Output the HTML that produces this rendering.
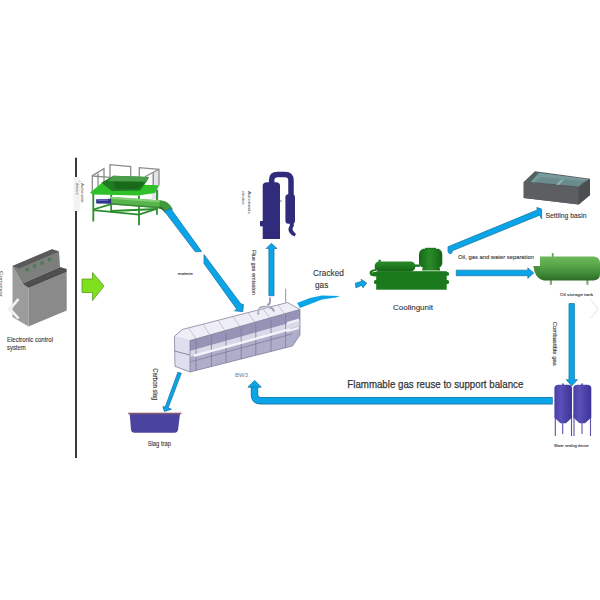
<!DOCTYPE html>
<html><head><meta charset="utf-8">
<style>
html,body{margin:0;padding:0;background:#fff;width:600px;height:600px;overflow:hidden}
svg{display:block}
text{font-family:"Liberation Sans",sans-serif;stroke-linejoin:round}
.b{stroke:#333;stroke-width:0.25px}
.s{stroke:#333;stroke-width:0.1px}
</style></head><body>
<svg width="600" height="600" viewBox="0 0 600 600">
<defs>
<linearGradient id="tankG" x1="0" y1="0" x2="0" y2="1">
<stop offset="0" stop-color="#6cb85a"/><stop offset="0.35" stop-color="#5aa84a"/><stop offset="0.75" stop-color="#3e8836"/><stop offset="1" stop-color="#2a6a26"/>
</linearGradient>
</defs>
<rect width="600" height="600" fill="#fff"/>

<!-- vertical divider -->
<rect x="75" y="157.7" width="2" height="19.4" fill="#3a3a3a"/>
<rect x="75" y="210.9" width="2" height="247.1" fill="#3a3a3a"/>
<rect x="73.5" y="177" width="6.5" height="34" fill="#f3f3f3"/>

<!-- cabinet -->
<polygon points="12.5,266 22.5,283.5 28.5,288 28.5,326.5 12.5,317" fill="#9c9c9c"/>
<polygon points="28.5,288 66.7,272 66.7,310.5 28.5,326.5" fill="#8a8a8a"/>
<polygon points="12.5,266 52,249.3 59,251.5 60,267 22.5,283.5" fill="#7c7f7c"/>
<polygon points="12.5,266 52,249.3 59,251.5 19,268.5" fill="#5a5a5a"/>
<polygon points="22.5,283.5 60,267 66.7,269 66.7,272 28.5,288" fill="#4e4e4e"/>
<g fill="#6a6a6a"><circle cx="30" cy="283" r="0.6"/><circle cx="36" cy="280.5" r="0.6"/><circle cx="42" cy="278" r="0.6"/><circle cx="48" cy="275.5" r="0.6"/><circle cx="54" cy="273" r="0.6"/><circle cx="60" cy="270.5" r="0.6"/></g>
<circle cx="27.3" cy="269.5" r="1.9" fill="#4f7a55"/>
<circle cx="34.5" cy="266" r="1.9" fill="#4f7a55"/>
<circle cx="42" cy="263" r="1.9" fill="#4f7a55"/>
<circle cx="49.5" cy="259.3" r="1.9" fill="#4f7a55"/>

<!-- green arrow -->
<polygon points="82,279 92.5,279 92.5,272.5 104,286 92.5,300.5 92.5,292.5 82,292.5" fill="#7ee01e" stroke="#5a9a1a" stroke-width="0.8"/>

<!-- feeder machine -->
<g>
<polygon points="151.7,172.5 159,170 159,199.5 151.7,199.5" fill="#e4e4ea"/>
<g fill="none" stroke="#8c8c8c" stroke-width="1.3">
<polyline points="92.3,193 92.3,175.7 104,168.7 104,182"/>
<line x1="98" y1="173.3" x2="98" y2="186.7"/>
<line x1="92.3" y1="176" x2="110" y2="177.3"/>
<polyline points="110,180 110,164.7 130.7,166.7 130.7,177"/>
<polyline points="139.3,177 139.3,167.7 159,169.3 159,185.3"/>
<line x1="159" y1="169.3" x2="145" y2="176.7"/>
<line x1="153.3" y1="173" x2="153.3" y2="185"/>
</g>
<polygon points="90,192.7 101.3,183.3 159,185.3 155,193 138.3,195.5 93,194.5" fill="#2fc02a"/>
<polygon points="101.3,182.7 113.3,175.7 149,177 147,181 140,190.5 112,191" fill="#1f7a22"/>
<polygon points="113.3,175.7 149,177 146,181.5 108,181" fill="#4a9e4a"/>
<polygon points="113,182 144,182.5 138,189 116,189" fill="#186a1a"/>
<g stroke="#2a8e2a" stroke-width="1.8" fill="none">
<line x1="93.3" y1="194" x2="93.3" y2="221.5"/>
<line x1="111.2" y1="195" x2="111.2" y2="212.5"/>
<line x1="139" y1="195.5" x2="139" y2="225.2"/>
<line x1="157" y1="190" x2="157" y2="214.7"/>
<polyline points="93.3,210.2 139,214.7 157,208.7"/>
<line x1="93.3" y1="209.5" x2="111.2" y2="204.2"/>
<line x1="111.2" y1="211" x2="157" y2="209"/>
</g>
<polygon points="110.5,196.7 161.5,200.5 161.5,208.5 110.5,204.5" fill="#5ab44e"/><polygon points="110.5,203 161.5,207 161.5,208.5 110.5,204.5" fill="#3a8a36"/>
<polygon points="110.5,196.7 161.5,200.5 161.5,202.5 110.5,198.7" fill="#86d07a"/>
<polygon points="96.2,199.3 111.2,198.7 111.2,203.8 96.2,203.5" fill="#30338a"/>
<polygon points="98,199.6 108,199.2 108,200.8 98,201" fill="#6a70c0"/>
<path d="M159.5,200.6 Q168,199.8 173,209.3 L165.3,213.3 Q163,209 159.5,208.5 Z" fill="#3e9a3a"/><path d="M159.5,206.5 Q163.5,207 165.8,212.8 L165.3,213.3 Q163,209 159.5,208.5 Z" fill="#2a6a2a"/>
</g>

<!-- feeder to furnace pipe -->
<polygon points="164.3,211 170.8,208.7 201.6,251.5 195.3,251.8" fill="#0aa4e8" stroke="#1b78a4" stroke-width="0.8"/>

<polygon points="204,254.6 240.8,303.8 243.4,304.6 242.8,311.6 234.6,310.8 236.6,309 204,263.5" fill="#0aa4e8" stroke="#1b78a4" stroke-width="0.8"/>


<!-- chimney -->
<path d="M271.7,184 L271.7,180 Q271.7,174.5 277.5,174.5 L285,174.5 Q291,174.5 291,180.5 L291,196" fill="none" stroke="#302b7a" stroke-width="5.5"/>
<path d="M262.7,239 L262.7,186 Q262.7,182.3 267,182.3 L276,182.3 Q280,182.3 280,186 L280,239 Z" fill="#302b7a"/>
<rect x="285.4" y="194.3" width="9.6" height="29.4" rx="3" fill="#302b7a"/>
<path d="M289.5,226 Q287.5,229 289,232 Q291,235 294.5,236.5 L296,234 Q293.5,232 292.5,229.5 Q292.5,227.5 293.8,226 Z" fill="#302b7a"/>
<rect x="289.8" y="223" width="4" height="3" fill="#302b7a"/>
<rect x="260" y="221" width="3" height="5.3" fill="#302b7a"/>
<rect x="280" y="200.5" width="1.7" height="1" fill="#6a6a9a"/>

<!-- flue gas arrow -->
<polygon points="268.9,295.7 268.9,248.5 266.2,248.5 271.4,243.3 277,248.5 274,248.5 274,295.7" fill="#0aa4e8" stroke="#1b78a4" stroke-width="0.8"/>

<!-- furnace -->
<g>
<polygon points="174.4,336.3 182.5,329.4 287.5,302.5 300,309.4 300,335 292.5,346 190,372 175,366.3" fill="#c4c4d8"/>
<polygon points="174.4,336.3 182.5,329.4 287.5,302.5 300,309.4 190,340.6" fill="#eeeef6"/>
<polygon points="190,340.6 300,309.4 300,320 190,351" fill="#9694b6"/>
<polygon points="190,351 300,320 300,326 190,357" fill="#d8d8e8"/>
<polygon points="190,357 300,326 300,335 292.5,346 190,372" fill="#aeaeca"/>
<polygon points="174.4,336.3 190,340.6 190,372 175,366.3" fill="#dedeee"/>
<line x1="174.5" y1="351" x2="190" y2="355" stroke="#8a8aa8" stroke-width="1"/>
<g stroke="#c8bcc8" stroke-width="0.9">
<line x1="188.7" y1="328" x2="196" y2="338.8"/>
<line x1="203.3" y1="324.5" x2="210.8" y2="336.6"/>
<line x1="218.4" y1="320.5" x2="226" y2="332.3"/>
<line x1="233" y1="316.5" x2="241.2" y2="328"/>
<line x1="248" y1="312.6" x2="256" y2="323.8"/>
<line x1="263" y1="308.7" x2="271" y2="319.6"/>
<line x1="278" y1="304.8" x2="285.5" y2="315.4"/>
</g>
<g stroke="#7c7c9c" stroke-width="0.8">
<line x1="196" y1="338.8" x2="196" y2="370.5"/>
<line x1="211.4" y1="334.5" x2="211.4" y2="366.5"/>
<line x1="226" y1="330.3" x2="226" y2="362.8"/>
<line x1="241.2" y1="326" x2="241.2" y2="359"/>
<line x1="255.8" y1="322" x2="255.8" y2="355"/>
<line x1="271" y1="317.6" x2="271" y2="351.5"/>
<line x1="285.5" y1="313.4" x2="285.5" y2="348"/>
<line x1="190" y1="362" x2="292" y2="334"/>
</g>
<polygon points="194,354.5 290,328 290,330.5 194,357" fill="#f4f4fa"/>
<polygon points="287,322 299,318.5 299,321 287,324.5" fill="#f0f0f8"/>
<polygon points="287,330 299,326.5 299,329 287,332.5" fill="#f0f0f8"/>
<g stroke="#7a7a98" stroke-width="0.7" fill="none">
<polyline points="174.4,336.3 182.5,329.4 287.5,302.5 300,309.4 300,335 292.5,346 190,372 175,366.3 174.4,336.3"/>
<line x1="190" y1="340.6" x2="300" y2="309.4"/>
<line x1="190" y1="340.6" x2="190" y2="372"/>
</g>
<path d="M258,314.5 L259,309.5 Q260,306.8 264,306.8 L270,307.5 Q273,308 274,311.5" fill="none" stroke="#a0a0b8" stroke-width="2"/>
<path d="M258.6,313 L259.5,309.5 Q260.5,307.5 264,307.5 L269,308" fill="none" stroke="#ececf4" stroke-width="0.7"/>
<path d="M270,297.5 L270,302 Q270,304.5 267,305" fill="none" stroke="#a0a0b8" stroke-width="2"/>
<line x1="285.6" y1="288.8" x2="285.6" y2="302.5" stroke="#a4a4b8" stroke-width="1.2"/>
</g>
<text x="235" y="376.5" font-size="5" fill="#80808a" textLength="13" lengthAdjust="spacingAndGlyphs">BW3</text>

<!-- cracked gas streak & small arrow -->
<polygon points="297,303 310,298 322,295.5 340,296 336,297.5 322,299.5 300,308" fill="#0aa4e8"/>
<polygon points="355.3,283.3 361.8,281.3 361,279.3 366.7,283 363,287.8 362,285.3 356,287.8" fill="#0aa4e8" stroke="#1b78a4" stroke-width="0.8"/>
<text class="s" x="313" y="276" font-size="9" fill="#333" textLength="31" lengthAdjust="spacingAndGlyphs">Cracked</text>
<text class="s" x="315" y="288" font-size="9" fill="#333" textLength="13.3" lengthAdjust="spacingAndGlyphs">gas</text>

<!-- cooling unit -->
<defs>
<linearGradient id="cuG" x1="0" y1="0" x2="1" y2="0">
<stop offset="0" stop-color="#156815"/><stop offset="0.45" stop-color="#2a8c2a"/><stop offset="1" stop-color="#146414"/>
</linearGradient>
<linearGradient id="cyG" x1="0" y1="0" x2="0" y2="1">
<stop offset="0" stop-color="#2a8a2a"/><stop offset="0.5" stop-color="#1f7a1f"/><stop offset="1" stop-color="#156415"/>
</linearGradient>
</defs>
<g>
<rect x="376.2" y="271.2" width="70.5" height="18.5" fill="#1b7a1b"/>
<rect x="372" y="272" width="77" height="3.7" rx="1.5" fill="#1b7a1b"/>
<rect x="374" y="280" width="75" height="4" rx="1.5" fill="#1b7a1b"/>
<path d="M376,269 Q369.5,269.5 369.5,273 Q369.5,276.5 376,276.5 L376,275 Q372,274.5 372,273 Q372,271 376,271 Z" fill="#1b7a1b"/>
<rect x="374.7" y="261.5" width="40.6" height="9.9" rx="4.5" fill="url(#cyG)"/>
<rect x="378.5" y="259.8" width="2.3" height="2" fill="#1b7a1b"/>
<rect x="414" y="264.5" width="6" height="2.3" fill="#1b7a1b"/>
<path d="M423,248.7 L438.3,248.7 Q442.3,250 442.3,255 L442.3,262.5 Q442.3,266 439.5,267.5 L440.3,270.5 L422,270.5 L422.8,267.5 Q419,266 419,262.5 L419,255 Q419,250 423,248.7 Z" fill="url(#cuG)"/>
<rect x="425" y="247.8" width="11" height="1.5" fill="#1f7a1f"/>
</g>
<text class="s" x="393" y="310" font-size="7" fill="#333" textLength="40" lengthAdjust="spacingAndGlyphs">Coolingunit</text>

<!-- arrow to settling basin -->
<path d="M448,246.8 L537.3,210 L536.8,207.6 L541.6,209 L541.6,218.8 L539.6,215.2 L452.2,250.8 L452.2,252 Q451.5,254 449.8,253.8 Q448,253 448,251 Z" fill="#0aa4e8" stroke="#1b78a4" stroke-width="0.8"/>
<text class="s" x="458" y="258.5" font-size="6" fill="#333" textLength="76" lengthAdjust="spacingAndGlyphs">Oil, gas and water separation</text>

<!-- settling basin -->
<polygon points="523.7,181.9 535,171.2 590,178.7 590,195 578.7,204.4 523.7,198.1" fill="#56585c"/>
<polygon points="523.7,181.9 578.7,187.6 578.7,204.4 523.7,198.1" fill="#5c5e62"/>
<polygon points="578.7,187.6 590,178.7 590,195 578.7,204.4" fill="#4c4e52"/>
<polygon points="525.8,181.6 536.2,172.6 588,179.2 578.4,186.4" fill="#6a8c8c"/>
<polygon points="525.8,181.6 536.2,172.6 539,173 530.5,182.1" fill="#4f6262"/>
<polygon points="530.5,182.1 539,173 588,179.2 586,181 540,177 535,182.6" fill="#779a9a"/>
<polygon points="556,184.6 561.5,179.5 564,179.8 559,185" fill="#8ab4b4"/>
<text class="s" x="545.5" y="217.5" font-size="7.5" fill="#333" textLength="41" lengthAdjust="spacingAndGlyphs">Settling basin</text>

<!-- arrow to oil tank -->
<polygon points="456.3,270.2 528,270.2 527.8,267.9 533.7,273 527.8,278.3 528,275.7 456.3,275.7" fill="#0aa4e8" stroke="#1b78a4" stroke-width="0.8"/>

<!-- oil tank -->
<rect x="551.8" y="253.2" width="1.8" height="4" fill="#6a9a5a"/>
<rect x="549.8" y="279" width="2.2" height="5.8" fill="#8aa880"/>
<rect x="586.3" y="279" width="2.2" height="5.8" fill="#8aa880"/>
<path d="M540,256.4 L594,256.4 Q600,257 600,263 L600,274 Q600,280 594,280.4 L544,280.4 Q535,279 533.4,266 L540,266 Z" fill="url(#tankG)"/>
<path d="M533.4,266 L540,266 L540,272 Q539,279 544,280.4 Q535,279 533.4,266 Z" fill="#3e8a36" opacity="0.5"/>
<text class="s" x="560" y="296" font-size="4.4" fill="#333" textLength="33" lengthAdjust="spacingAndGlyphs">Oil storage tank</text>

<!-- combustible gas arrow -->
<polygon points="569,303.6 574.4,303.6 574.4,379.7 577.4,379.7 571.7,385.9 566.3,379.7 569,379.7" fill="#0aa4e8" stroke="#1b78a4" stroke-width="0.8"/>
<text class="s" transform="translate(553,321.7) rotate(90)" font-size="6" fill="#333" textLength="44" lengthAdjust="spacingAndGlyphs">Combustible gas</text>

<!-- water sealing tanks -->
<defs>
<linearGradient id="wsG" x1="0" y1="0" x2="1" y2="0">
<stop offset="0" stop-color="#4a40a6"/><stop offset="0.35" stop-color="#5a50b8"/><stop offset="1" stop-color="#3c3496"/>
</linearGradient>
</defs>
<g stroke="#5a52a8" stroke-width="1.1">
<line x1="555.3" y1="415" x2="555.3" y2="436"/>
<line x1="571.5" y1="415" x2="571.5" y2="436"/>
<line x1="574" y1="415" x2="574" y2="436"/>
<line x1="590.5" y1="415" x2="590.5" y2="436"/>
<line x1="562.7" y1="420" x2="562.7" y2="434"/>
<line x1="582" y1="420" x2="582" y2="434"/>
</g>
<path d="M554.4,417.5 L554.4,388.2 Q554.4,384.7 558.5,384.7 L568,384.7 Q572,384.7 572,388.2 L572,417.5 L566,423.3 L560.4,423.3 Z" fill="url(#wsG)"/>
<path d="M573.3,417.5 L573.3,388.2 Q573.3,384.7 577.5,384.7 L587,384.7 Q591.3,384.7 591.3,388.2 L591.3,417.5 L585,423.3 L579.5,423.3 Z" fill="url(#wsG)"/>
<rect x="562" y="383.5" width="2" height="1.5" fill="#6a60b8"/>
<rect x="581" y="383.5" width="2" height="1.5" fill="#6a60b8"/>
<text class="s" x="554" y="447" font-size="4.2" fill="#333" textLength="34.7" lengthAdjust="spacingAndGlyphs">Water sealing device</text>

<!-- return arrow -->
<path d="M552.7,400.7 L261,400.7 Q254.5,400.7 254.5,394.2 L254.5,386.5" fill="none" stroke="#1b78a4" stroke-width="7.4"/><path d="M552.3,400.7 L261,400.7 Q254.5,400.7 254.5,394.2 L254.5,386.5" fill="none" stroke="#0aa4e8" stroke-width="5.8"/>
<polygon points="247.9,387.2 254.7,380.4 261.3,387.2" fill="#0aa4e8" stroke="#1b78a4" stroke-width="0.8"/>
<text class="b" x="347.3" y="388.3" font-size="11.8" fill="#333" textLength="176" lengthAdjust="spacingAndGlyphs">Flammable gas reuse to support balance</text>

<!-- carbon slag -->
<polygon points="177.9,372.3 181.3,373.3 168.2,407.8 171.5,409.3 164.4,411.4 162.9,406.7 165.2,407" fill="#0aa4e8" stroke="#1b78a4" stroke-width="0.8"/>
<text class="s" transform="translate(152.5,368.3) rotate(90)" font-size="7" fill="#333" textLength="32" lengthAdjust="spacingAndGlyphs">Carbon slag</text>
<path d="M129.7,414 L180,414 L178,430 Q177.5,432.7 175,432.7 L134,432.7 Q131.5,432.7 131,430 Z" fill="#4a44a0"/>
<rect x="128.2" y="412.7" width="53.3" height="1.5" fill="#8a5a6a"/>
<text class="s" x="147.7" y="446.2" font-size="7" fill="#333" textLength="23.3" lengthAdjust="spacingAndGlyphs">Slag trap</text>

<!-- small labels -->
<text class="s" x="177.7" y="274.5" font-size="4.2" fill="#333" textLength="15" lengthAdjust="spacingAndGlyphs">materie</text>
<text transform="translate(247.8,191) rotate(90)" font-size="4.4" fill="#333" textLength="23" lengthAdjust="spacingAndGlyphs">Automatic</text>
<text transform="translate(242.2,191) rotate(90)" font-size="4.4" fill="#333" textLength="14" lengthAdjust="spacingAndGlyphs">device</text>
<text class="s" transform="translate(252.3,250) rotate(90)" font-size="6" fill="#333" textLength="45" lengthAdjust="spacingAndGlyphs">Flue gas emission</text>
<text transform="translate(81.2,183) rotate(90)" font-size="4.2" fill="#555" textLength="20" lengthAdjust="spacingAndGlyphs">Automatic</text><text transform="translate(79,180) rotate(90)" font-size="4" fill="#999">1</text>
<text transform="translate(75.8,182.7) rotate(90)" font-size="4" fill="#555" textLength="12" lengthAdjust="spacingAndGlyphs">device</text>
<text class="s" x="7" y="341.6" font-size="6.5" fill="#333" textLength="46" lengthAdjust="spacingAndGlyphs">Electronic control</text>
<text class="s" x="7" y="349.5" font-size="6.5" fill="#333" textLength="18.7" lengthAdjust="spacingAndGlyphs">system</text>
<text transform="translate(-0.5,271) rotate(90)" font-size="4.2" fill="#333" textLength="26" lengthAdjust="spacingAndGlyphs">Conveyor</text>

<!-- chevrons -->
<polyline points="18.5,299 10,309 18.5,318.5" fill="none" stroke="#d8d8d8" stroke-width="2.8"/><polyline points="18.5,299 10,309 18.5,318.5" fill="none" stroke="#f8f8f8" stroke-width="1.8"/>
<polyline points="591,300 598,309 591,318" fill="none" stroke="#eee" stroke-width="1.5"/>
</svg>
</body></html>
